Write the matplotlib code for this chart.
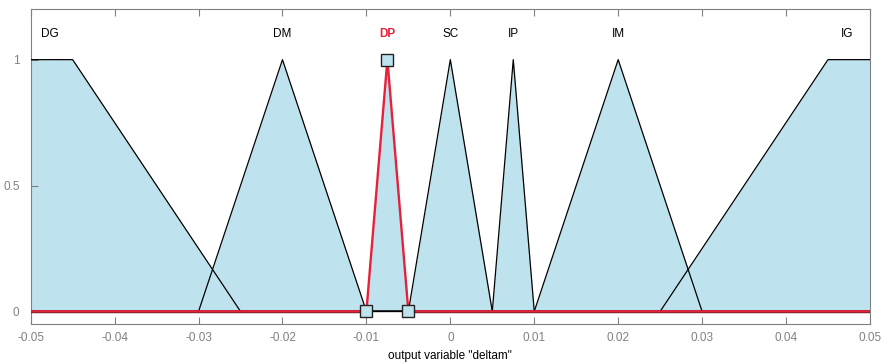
import matplotlib
matplotlib.use('Agg')
from matplotlib import pyplot as plt
from matplotlib import transforms
import numpy as np

plt.rc('font', family='Liberation Sans')

# membership functions of output variable "deltam" (vertices)
mf_names = ['DG', 'DM', 'DP', 'SC', 'IP', 'IM', 'IG']
mf_x = [
    [-0.05, -0.045, -0.025],
    [-0.03, -0.02, -0.01],
    [-0.01, -0.0075, -0.005],
    [-0.005, 0.0, 0.005],
    [0.005, 0.0075, 0.01],
    [0.01, 0.02, 0.03],
    [0.025, 0.045, 0.05],
]
mf_y = [
    [1, 1, 0],
    [0, 1, 0],
    [0, 1, 0],
    [0, 1, 0],
    [0, 1, 0],
    [0, 1, 0],
    [0, 1, 1],
]
label_x = [-0.0477, -0.02, -0.0075, 0.0, 0.0075, 0.02, 0.0473]
selected = 'DP'

xmin, xmax = -0.05, 0.05
fill_col = '#bfe3ee'
red = '#e8203a'
gray = '#808080'

fig = plt.figure(figsize=(8.87, 3.62), dpi=100)
ax = fig.add_axes([0.0346, 0.105, 0.9462, 0.8693])

# fills
for xs, ys in zip(mf_x, mf_y):
    ax.fill_between(xs, ys, 0, color=fill_col, lw=0, zorder=1)

# lines over the whole range
def full(xs, ys):
    xx = list(xs)
    yy = list(ys)
    if xx[0] > xmin:
        xx = [xmin] + xx
        yy = [0] + yy
    if xx[-1] < xmax:
        xx = xx + [xmax]
        yy = yy + [0]
    return xx, yy

for name, xs, ys in zip(mf_names, mf_x, mf_y):
    if name == selected:
        continue
    xx, yy = full(xs, ys)
    ax.plot(xx, yy, color='black', lw=0.9, zorder=3)

i = mf_names.index(selected)
sx, sy = mf_x[i], mf_y[i]

# dark line just under the zero level where the red mf lies on zero
down = transforms.offset_copy(ax.transData, fig=fig, x=0, y=-1.0, units='dots')
ax.plot([xmin, sx[0]], [0, 0], color='#3a1a1e', lw=1.0, zorder=3.5, transform=down)
ax.plot([sx[-1], xmax], [0, 0], color='#3a1a1e', lw=1.0, zorder=3.5, transform=down)

xx, yy = full(sx, sy)
ax.plot(xx, yy, color=red, lw=1.7, zorder=4)
ax.plot(sx, sy, ls='none', marker='s', ms=8, mfc=fill_col,
        mec='#222222', mew=1.0, zorder=6)

for name, lx in zip(mf_names, label_x):
    if name == selected:
        ax.text(lx, 1.1, name, ha='center', va='center', fontsize=8.5,
                color=red, fontweight='bold')
    else:
        ax.text(lx, 1.1, name, ha='center', va='center', fontsize=8.5,
                color='black')

ax.set_xlim(xmin, xmax)
ax.set_ylim(-0.05, 1.2)
ax.set_xticks(np.arange(-0.05, 0.0501, 0.01))
ax.set_xticklabels(['-0.05', '-0.04', '-0.03', '-0.02', '-0.01', '0',
                    '0.01', '0.02', '0.03', '0.04', '0.05'])
ax.set_yticks([0, 0.5, 1])
ax.set_yticklabels(['0', '0.5', '1'])
ax.tick_params(direction='in', length=5, width=0.8, colors=gray,
               labelsize=8.5, top=True, pad=6)
ax.tick_params(axis='y', pad=8)
for s in ax.spines.values():
    s.set_color(gray)
    s.set_linewidth(0.8)
ax.set_xlabel('output variable "deltam"', fontsize=8.5, color='black', labelpad=4)

plt.savefig('out.png', dpi=100)
